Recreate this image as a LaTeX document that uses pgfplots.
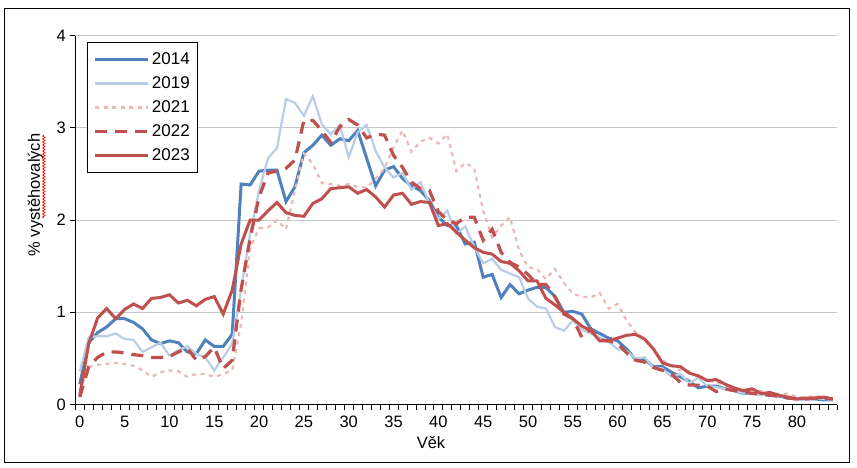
\documentclass[border=0pt]{standalone}
\usepackage{fontspec}
\setmainfont{Liberation Sans}
\usepackage{pgfplots}
\usepackage{pgfplotstable}
\pgfplotsset{compat=1.18}
\usetikzlibrary{decorations.pathmorphing}

\definecolor{c14}{HTML}{4F81BD}
\definecolor{c19}{HTML}{B9CDE5}
\definecolor{c21}{HTML}{EBB8B7}
\definecolor{c22}{HTML}{C0504D}
\definecolor{c23}{HTML}{C0504D}

% vek, podil vystehovalych (%) podle roku
\pgfplotstableread{
age y14 y19 y21 y22 y23
0 0.22 0.36 0.15 0.08 0.10
1 0.67 0.73 0.41 0.41 0.66
2 0.78 0.74 0.43 0.51 0.94
3 0.84 0.74 0.44 0.57 1.04
4 0.93 0.77 0.45 0.57 0.93
5 0.93 0.71 0.44 0.56 1.03
6 0.89 0.70 0.42 0.54 1.09
7 0.82 0.57 0.37 0.53 1.04
8 0.70 0.62 0.30 0.51 1.15
9 0.66 0.67 0.35 0.51 1.16
10 0.69 0.53 0.37 0.52 1.19
11 0.67 0.59 0.36 0.57 1.10
12 0.57 0.63 0.30 0.61 1.13
13 0.55 0.55 0.33 0.48 1.07
14 0.70 0.51 0.33 0.52 1.14
15 0.63 0.37 0.30 0.62 1.17
16 0.63 0.51 0.33 0.39 0.98
17 0.76 0.66 0.37 0.48 1.24
18 2.39 1.25 0.88 1.25 1.74
19 2.38 1.85 1.70 1.80 2.00
20 2.53 2.32 1.91 2.25 2.00
21 2.54 2.67 1.92 2.51 2.10
22 2.54 2.78 2.00 2.53 2.19
23 2.20 3.31 1.90 2.56 2.08
24 2.36 3.27 2.32 2.65 2.05
25 2.73 3.13 2.72 3.08 2.04
26 2.81 3.34 2.61 3.08 2.18
27 2.92 3.04 2.40 2.97 2.23
28 2.81 2.93 2.39 2.84 2.34
29 2.88 3.03 2.37 3.01 2.35
30 2.86 2.68 2.39 3.09 2.36
31 2.97 2.95 2.36 3.03 2.29
32 2.67 3.03 2.35 2.89 2.33
33 2.37 2.75 2.45 2.93 2.25
34 2.54 2.57 2.56 2.92 2.14
35 2.58 2.46 2.79 2.70 2.27
36 2.45 2.51 2.97 2.57 2.29
37 2.37 2.33 2.74 2.41 2.17
38 2.32 2.41 2.85 2.34 2.20
39 2.21 2.18 2.89 2.32 2.19
40 2.03 2.01 2.83 2.09 1.94
41 1.94 2.10 2.93 2.00 1.96
42 1.94 1.85 2.53 1.96 1.87
43 1.74 1.93 2.62 2.03 1.78
44 1.76 1.71 2.56 2.03 1.70
45 1.38 1.53 2.10 1.78 1.65
46 1.41 1.58 1.81 1.90 1.63
47 1.16 1.46 1.94 1.65 1.55
48 1.30 1.42 2.03 1.54 1.53
49 1.20 1.38 1.67 1.49 1.45
50 1.24 1.15 1.49 1.41 1.34
51 1.27 1.06 1.47 1.30 1.34
52 1.27 1.04 1.36 1.30 1.15
53 1.17 0.84 1.47 1.17 1.08
54 1.00 0.80 1.32 0.98 1.00
55 1.01 0.91 1.20 0.93 0.93
56 0.98 0.81 1.17 0.73 0.85
57 0.82 0.77 1.16 0.82 0.80
58 0.77 0.73 1.21 0.70 0.69
59 0.72 0.68 1.04 0.69 0.69
60 0.69 0.60 1.09 0.66 0.72
61 0.60 0.58 0.91 0.56 0.75
62 0.49 0.50 0.78 0.48 0.76
63 0.49 0.51 0.70 0.46 0.71
64 0.41 0.40 0.60 0.40 0.60
65 0.41 0.39 0.48 0.37 0.45
66 0.35 0.30 0.42 0.33 0.42
67 0.30 0.33 0.37 0.24 0.41
68 0.25 0.23 0.36 0.21 0.34
69 0.18 0.29 0.30 0.21 0.31
70 0.20 0.20 0.26 0.20 0.26
71 0.20 0.19 0.24 0.14 0.27
72 0.17 0.17 0.21 0.17 0.22
73 0.15 0.15 0.17 0.15 0.18
74 0.12 0.12 0.16 0.14 0.15
75 0.12 0.12 0.15 0.12 0.17
76 0.12 0.10 0.15 0.11 0.12
77 0.10 0.11 0.12 0.10 0.13
78 0.09 0.09 0.11 0.09 0.10
79 0.07 0.08 0.12 0.07 0.08
80 0.06 0.07 0.08 0.06 0.06
81 0.06 0.06 0.08 0.06 0.07
82 0.06 0.07 0.09 0.07 0.07
83 0.05 0.06 0.08 0.07 0.08
84 0.05 0.05 0.07 0.06 0.06
}\vystehovali

\begin{document}
\begin{tikzpicture}
\useasboundingbox (-75.3pt,-62.5pt) rectangle (781.7pt,404.5pt);
\draw[black, line width=1pt] (-71pt,-58.2pt) rectangle (774pt,396.2pt);
\begin{axis}[
  at={(0pt,0pt)}, anchor=south west,
  scale only axis, width=762pt, height=369pt,
  xmin=-0.5, xmax=84.5, ymin=0, ymax=4,
  axis x line*=bottom, axis y line*=left,
  axis line style={black, line width=0.9pt},
  xtick={0,5,...,80},
  minor xtick={-0.5,0.5,...,84.5},
  every major x tick/.append style={draw=none},
  ytick={0,1,2,3,4},
  tick align=outside,
  major tick length=5pt, minor tick length=5pt,
  tick style={black, line width=0.8pt},
  ymajorgrids,
  grid style={gray!45, line width=0.8pt},
  tick label style={font=\fontsize{16.5}{19}\selectfont},
  xticklabel style={yshift=-3pt},
  yticklabel style={xshift=-1pt},
  /pgf/number format/assume math mode=true,
  xlabel={Věk},
  ylabel={\% vystěhovalých},
  every axis x label/.style={at={(axis description cs:0.4668,-0.1043)}, anchor=center, font=\fontsize{16.5}{19}\selectfont},
  every axis y label/.style={at={(axis description cs:-0.0522,0.5677)}, rotate=90, anchor=center, font=\fontsize{16.5}{19}\selectfont},
  legend image code/.code={\draw[#1] (0pt,0pt) -- (53pt,0pt);},
  legend cell align=left,
  legend style={at={(axis description cs:0.0157,0.9816)}, anchor=north west,
    draw=black, line width=0.9pt, font=\fontsize{17}{19}\selectfont,
    inner xsep=6pt, inner ysep=8pt, row sep=6.7pt},
]
\addplot[c14, line width=3pt] table[x=age, y=y14] {\vystehovali};
\addlegendentry{2014}
\addplot[c19, line width=2.2pt] table[x=age, y=y19] {\vystehovali};
\addlegendentry{2019}
\addplot[c21, line width=2.2pt, dash pattern=on 4pt off 4.5pt] table[x=age, y=y21] {\vystehovali};
\addlegendentry{2021}
\addplot[c22, line width=3.2pt, dash pattern=on 12pt off 8pt] table[x=age, y=y22] {\vystehovali};
\addlegendentry{2022}
\addplot[c23, line width=3pt] table[x=age, y=y23] {\vystehovali};
\addlegendentry{2023}
\end{axis}
\draw[red, line width=0.7pt, decorate, decoration={snake, amplitude=1.2pt, segment length=3pt}] (-31.5pt,186.5pt) -- (-31.5pt,269.5pt);
\end{tikzpicture}
\end{document}
